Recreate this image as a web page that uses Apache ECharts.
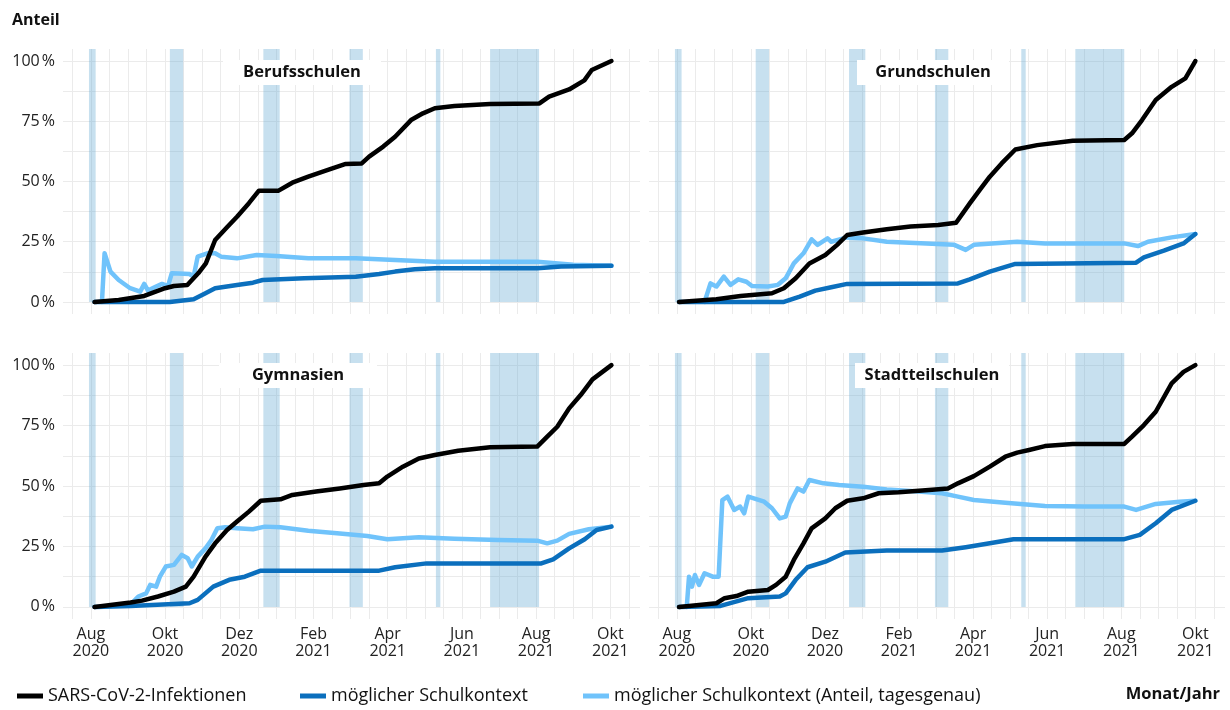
<!DOCTYPE html>
<html>
<head>
<meta charset="utf-8">
<script src="https://cdn.jsdelivr.net/npm/echarts@6/dist/echarts.min.js"></script>
<style>
  html, body { margin: 0; padding: 0; background: #fff; }
  #chart { width: 1230px; height: 710px; }
</style>
</head>
<body>
<div id="chart"></div>
<script>
// x values are months since Aug 2020 (0 = 1 Aug 2020, 14 = 1 Okt 2021), y values in %
const panelNames = ['Berufsschulen', 'Grundschulen', 'Gymnasien', 'Stadtteilschulen'];
const seriesNames = ['SARS-CoV-2-Infektionen', 'möglicher Schulkontext', 'möglicher Schulkontext (Anteil, tagesgenau)'];

const xTickValues = [0, 2, 4, 6, 8, 10, 12, 14];
const xTickLabels = ['Aug\n2020', 'Okt\n2020', 'Dez\n2020', 'Feb\n2021', 'Apr\n2021', 'Jun\n2021', 'Aug\n2021', 'Okt\n2021'];
const yTickValues = [0, 25, 50, 75, 100];
const yTickLabels = ['0\u202f%', '25\u202f%', '50\u202f%', '75\u202f%', '100\u202f%'];

// Hamburg school holidays (month offsets)
const holidays = [[-0.05, 0.13], [2.13, 2.49], [4.65, 5.09], [6.97, 7.33], [9.3, 9.42], [10.76, 12.08]];

// Berufsschulen
const berufInf = [[0.1,0],[0.75,0.8],[1.44,2.5],[2.0,5.7],[2.24,6.6],[2.6,7],[2.9,12],[3.1,16],[3.35,25.7],[3.67,31],[3.94,35.4],[4.26,41],[4.53,46.2],[5.06,46.2],[5.43,49.5],[5.86,52],[6.39,54.8],[6.87,57.3],[7.3,57.5],[7.5,60.3],[7.88,64.5],[8.2,68.6],[8.63,75.5],[8.95,78.3],[9.27,80.4],[9.8,81.3],[10.76,82.2],[12.09,82.4],[12.35,85.2],[12.89,88.2],[13.3,92],[13.5,96.3],[14.03,100]];
const berufSchule = [[0.1,0],[2.13,0],[2.77,1.1],[3.09,3.6],[3.35,5.7],[3.94,7],[4.37,8],[4.63,9.1],[5.75,9.8],[7.14,10.5],[7.77,11.6],[8.2,12.6],[8.73,13.6],[9.27,14],[12.03,14],[12.67,14.7],[14.03,15]];
const berufAnteil = [[0.3,0],[0.37,20.2],[0.53,12.6],[0.75,9.1],[1.06,5.7],[1.33,4.3],[1.44,7.5],[1.54,4.7],[1.76,6.4],[1.92,7.5],[2.08,6.6],[2.18,11.9],[2.66,11.6],[2.77,10.5],[2.88,18.8],[3.14,20.2],[3.35,20.2],[3.51,18.8],[3.94,18.1],[4.47,19.5],[5.0,19.1],[5.86,18.1],[7.14,18.1],[8.2,17.4],[9.27,16.7],[12.03,16.7],[13.0,15.4],[14.03,15]];

// Grundschulen
const grundInf = [[0.06,0],[1.07,1.1],[1.72,2.5],[2.57,3.6],[2.89,5.7],[3.21,9.8],[3.58,16],[4.01,19.5],[4.33,23.7],[4.6,27.8],[5.03,28.8],[5.67,30.2],[6.31,31.3],[7.06,31.9],[7.54,32.9],[7.91,40.9],[8.18,46.5],[8.45,52],[8.77,57.5],[9.14,63.3],[9.73,65.1],[10.69,66.9],[12.08,67.2],[12.29,70],[12.56,75.5],[12.93,83.8],[13.36,89.3],[13.73,92.8],[14.0,100]];
const grundSchule = [[0.06,0],[2.89,0],[3.32,2.2],[3.74,4.7],[4.17,6.1],[4.6,7.5],[7.59,7.7],[7.91,9.4],[8.45,12.6],[9.14,15.8],[10.47,16],[12.4,16.3],[12.61,18.5],[13.15,21.3],[13.68,24.3],[14.0,28.2]];
const grundAnteil = [[0.75,0],[0.91,7.7],[1.07,6.4],[1.27,10.5],[1.45,7.1],[1.66,9.4],[1.88,8.4],[2.03,6.6],[2.46,6.4],[2.73,7.1],[2.94,9.8],[3.16,16],[3.42,20.2],[3.64,26],[3.8,23.7],[4.07,26.4],[4.17,25],[4.6,26.8],[5.03,26.4],[5.67,25],[6.74,24.3],[7.49,23.7],[7.8,21.6],[8.02,23.7],[9.19,25],[9.94,24.3],[12.08,24.3],[12.45,23.2],[12.72,25],[13.36,26.8],[14.0,28.2]];

// Gymnasien
const gymInf = [[0.1,0],[1.07,1.8],[1.38,2.6],[1.81,4.3],[2.24,6.3],[2.56,8.4],[2.77,12.5],[3.09,20.8],[3.35,26.3],[3.67,31.8],[3.94,35.3],[4.26,39.4],[4.58,43.9],[5.11,44.5],[5.43,46.3],[6.07,47.7],[6.71,49],[7.35,50.4],[7.77,51.1],[7.99,53.9],[8.41,58],[8.84,61.4],[9.27,62.8],[9.9,64.6],[10.76,66],[12.03,66.3],[12.3,70.4],[12.57,74.5],[12.89,82.1],[13.2,87.6],[13.52,94.1],[14.03,100]];
const gymSchule = [[0.1,0],[1.07,0.4],[2.66,1.5],[2.88,2.9],[3.3,8.4],[3.73,11.2],[4.15,12.5],[4.58,15],[7.77,15],[8.2,16.4],[9.05,18],[12.14,18],[12.46,19.7],[12.89,24.2],[13.31,28],[13.63,31.8],[14.03,33.2]];
const gymAnteil = [[1.1,1.5],[1.28,4.3],[1.49,5.6],[1.6,9.1],[1.76,8.4],[1.86,12.5],[2.02,16.7],[2.24,17.4],[2.45,21.5],[2.61,20.1],[2.72,16.7],[2.88,20.8],[3.09,24.2],[3.25,27.7],[3.41,32.5],[3.62,32.9],[3.94,32.5],[4.37,32.1],[4.69,33.2],[5.11,32.9],[5.86,31.5],[6.71,30.4],[7.45,29.3],[7.99,28],[8.84,28.8],[9.8,28.2],[10.97,27.7],[12.03,27.4],[12.3,26.3],[12.57,27.4],[12.89,30.2],[13.42,32.1],[14.03,33.2]];

// Stadtteilschulen
const stsInf = [[0.06,0],[1.07,1.5],[1.29,3.6],[1.61,4.5],[1.93,6.3],[2.46,7],[2.68,9.1],[2.94,12.5],[3.16,19.4],[3.42,26.3],[3.64,32.5],[4.01,36.6],[4.28,40.8],[4.6,43.9],[5.03,44.9],[5.45,47],[5.99,47.4],[6.63,48.1],[7.32,49],[7.59,51.1],[8.02,54.1],[8.45,58],[8.87,62.1],[9.19,63.8],[9.51,64.9],[9.94,66.5],[10.69,67.4],[12.08,67.4],[12.29,70.4],[12.61,75.2],[12.93,80.7],[13.36,92.4],[13.68,97.2],[14.0,100]];
const stsSchule = [[0.06,0],[1.18,0.4],[1.93,3.6],[2.78,4.3],[2.94,5.6],[3.21,11.2],[3.53,16.4],[4.01,18.7],[4.55,22.5],[5.67,23.3],[7.16,23.3],[7.8,24.7],[8.45,26.3],[9.09,28],[12.08,28],[12.5,29.8],[12.93,34.6],[13.36,40.1],[14.0,43.9]];
const stsAnteil = [[0.27,0],[0.33,12.5],[0.41,8.4],[0.49,13.2],[0.6,9.1],[0.75,13.9],[0.97,12.5],[1.13,12.5],[1.23,44.2],[1.37,45.6],[1.55,40.1],[1.71,41.5],[1.82,38.7],[1.93,45.6],[2.36,43.5],[2.57,40.8],[2.78,36.6],[2.94,37.3],[3.05,42.8],[3.26,49],[3.42,47.7],[3.58,52.5],[3.96,51.1],[4.38,50.4],[5.03,49.7],[5.67,48.6],[6.52,47.7],[7.16,47],[7.59,45.6],[8.02,44.2],[8.87,43.1],[9.94,41.7],[11.01,41.5],[12.08,41.5],[12.4,40.1],[12.93,42.6],[13.57,43.5],[14.0,43.9]];

const panelData = [
  [berufInf, berufSchule, berufAnteil],
  [grundInf, grundSchule, grundAnteil],
  [gymInf, gymSchule, gymAnteil],
  [stsInf, stsSchule, stsAnteil]
];

const colors = ['#000000', '#0b6fbd', '#70c3fb'];
const font = '"Open Sans", Lato, sans-serif';

const halfMonths = [];
for (let v = -0.5; v <= 14.5; v += 0.5) halfMonths.push(v);

const grids = [
  { left: 63, top: 49, width: 577, height: 265 },
  { left: 649, top: 49, width: 576, height: 265 },
  { left: 63, top: 353, width: 577, height: 266 },
  { left: 649, top: 353, width: 576, height: 266 }
];

const xAxes = grids.map((g, i) => ({
  type: 'value', gridIndex: i, min: -0.75, max: 14.8,
  axisLine: { show: false },
  axisTick: { show: false, customValues: halfMonths },
  splitLine: { show: true, lineStyle: { color: '#ebebeb', width: 1 } },
  axisLabel: {
    show: i >= 2, customValues: xTickValues, margin: 7,
    fontFamily: font, fontSize: 16, color: '#222', lineHeight: 17,
    formatter: v => xTickLabels[xTickValues.indexOf(v)] || ''
  }
}));

const yAxes = grids.map((g, i) => ({
  type: 'value', gridIndex: i, min: -5, max: 105,
  axisLine: { show: false },
  axisTick: { show: false, customValues: [0, 12.5, 25, 37.5, 50, 62.5, 75, 87.5, 100] },
  splitLine: { show: true, lineStyle: { color: '#ebebeb', width: 1 } },
  axisLabel: {
    show: i % 2 === 0, customValues: yTickValues, margin: 8,
    fontFamily: font, fontSize: 16, color: '#222',
    formatter: v => yTickLabels[yTickValues.indexOf(v)] || ''
  }
}));

const series = [];
panelData.forEach((sets, i) => {
  series.push({
    type: 'line', xAxisIndex: i, yAxisIndex: i, data: [], silent: true,
    markArea: {
      silent: true,
      itemStyle: { color: 'rgba(107,174,214,0.38)' },
      data: holidays.map(h => [{ xAxis: h[0], yAxis: 0 }, { xAxis: h[1], yAxis: 105 }])
    }
  });
  [2, 1, 0].forEach(k => {
    series.push({
      name: seriesNames[k], type: 'line', xAxisIndex: i, yAxisIndex: i,
      data: sets[k], showSymbol: false, symbol: 'none',
      lineStyle: { color: colors[k], width: 4.5, join: 'round', cap: 'round' },
      itemStyle: { color: colors[k] }
    });
  });
});

const titleBoxes = [
  { x: 223, y: 60, w: 158, h: 25 },
  { x: 857, y: 60, w: 152, h: 25 },
  { x: 219, y: 363, w: 158, h: 25 },
  { x: 855, y: 363, w: 154, h: 25 }
];
const graphics = [];
titleBoxes.forEach((b, i) => {
  graphics.push({ type: 'rect', z: 100, shape: { x: b.x, y: b.y, width: b.w, height: b.h }, style: { fill: '#fff' } });
  graphics.push({ type: 'text', z: 101, x: b.x + b.w / 2, y: b.y + b.h / 2,
    style: { text: panelNames[i], font: 'bold 16.5px ' + font, fill: '#111', align: 'center', verticalAlign: 'middle' } });
});
graphics.push({ type: 'text', x: 12, y: 20, style: { text: 'Anteil', font: 'bold 16px ' + font, fill: '#111', verticalAlign: 'middle' } });
graphics.push({ type: 'text', x: 1220, y: 694, style: { text: 'Monat/Jahr', font: 'bold 16.5px ' + font, fill: '#111', align: 'right', verticalAlign: 'middle' } });

const legendLefts = [12, 295, 578];
const legends = seriesNames.map((n, k) => ({
  left: legendLefts[k], top: 682, data: [n], icon: 'rect', itemWidth: 26, itemHeight: 5, itemGap: 0,
  textStyle: { fontFamily: font, fontSize: 18, color: '#111' },
  selectedMode: false
}));

const chart = echarts.init(document.getElementById('chart'));
chart.setOption({
  animation: false,
  backgroundColor: '#fff',
  grid: grids,
  xAxis: xAxes,
  yAxis: yAxes,
  legend: legends,
  graphic: graphics,
  series: series
});
</script>
</body>
</html>
